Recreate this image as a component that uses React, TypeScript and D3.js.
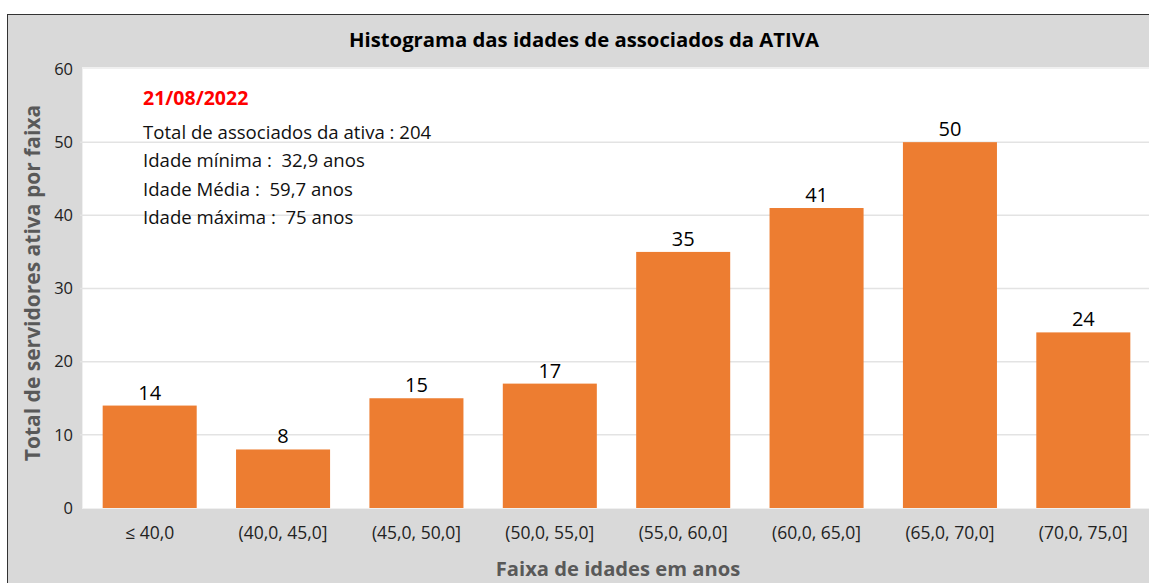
import { useEffect, useRef } from "react";
import * as d3 from "d3";

// histogram bins and counts
const faixas = [
  "≤ 40,0",
  "(40,0, 45,0]",
  "(45,0, 50,0]",
  "(50,0, 55,0]",
  "(55,0, 60,0]",
  "(60,0, 65,0]",
  "(65,0, 70,0]",
  "(70,0, 75,0]",
];
const totais = [14, 8, 15, 17, 35, 41, 50, 24];
const yTicks = [0, 10, 20, 30, 40, 50, 60];
const dataRef = "21/08/2022";
const resumo = [
  "Total de associados da ativa : 204",
  "Idade mínima :  32,9 anos",
  "Idade Média :  59,7 anos",
  "Idade máxima :  75 anos",
];

function App() {
  const ref = useRef<SVGSVGElement>(null);

  useEffect(() => {
    const W = 1149,
      H = 583;
    const svg = d3.select(ref.current);
    svg.selectAll("*").remove();
    const font = "'Open Sans', sans-serif";

    // outer frame
    svg.append("rect").attr("x", 0).attr("y", 0).attr("width", W).attr("height", H).attr("fill", "#fff");
    svg
      .append("rect")
      .attr("x", 7.5)
      .attr("y", 14.5)
      .attr("width", W)
      .attr("height", H)
      .attr("fill", "#d9d9d9")
      .attr("stroke", "#333")
      .attr("stroke-width", 1);

    const left = 83,
      right = 1150,
      top = 69,
      bottom = 508;

    // white plot area with light edge
    svg
      .append("rect")
      .attr("x", left - 1)
      .attr("y", top - 2)
      .attr("width", right - left + 2)
      .attr("height", bottom - top + 3)
      .attr("fill", "#f0f0f0");
    svg
      .append("rect")
      .attr("x", left)
      .attr("y", top)
      .attr("width", right - left)
      .attr("height", bottom - top)
      .attr("fill", "#fff");

    const x = d3.scaleBand<string>().domain(faixas).range([left, right]).paddingInner(0.295).paddingOuter(0.1475);
    const y = d3.scaleLinear().domain([0, 60]).range([bottom, top]);

    // gridlines
    svg
      .append("g")
      .selectAll("line")
      .data(yTicks.filter((t) => t > 0 && t < 60))
      .join("line")
      .attr("x1", left - 3)
      .attr("x2", right)
      .attr("y1", (d) => y(d))
      .attr("y2", (d) => y(d))
      .attr("stroke", "#e3e3e3")
      .attr("stroke-width", 1.5);

    // y tick labels
    svg
      .append("g")
      .selectAll("text")
      .data(yTicks)
      .join("text")
      .attr("x", 73)
      .attr("y", (d) => y(d))
      .attr("dy", "0.35em")
      .attr("text-anchor", "end")
      .attr("font-family", font)
      .attr("font-size", 16.5)
      .attr("fill", "#222")
      .text((d) => d);

    // bars
    svg
      .append("g")
      .selectAll("rect")
      .data(totais)
      .join("rect")
      .attr("x", (d, i) => x(faixas[i])!)
      .attr("y", (d) => y(d))
      .attr("width", x.bandwidth())
      .attr("height", (d) => y(0) - y(d))
      .attr("fill", "#ed7d31");

    // bar labels
    svg
      .append("g")
      .selectAll("text")
      .data(totais)
      .join("text")
      .attr("x", (d, i) => x(faixas[i])! + x.bandwidth() / 2)
      .attr("y", (d) => y(d) - 6)
      .attr("text-anchor", "middle")
      .attr("font-family", font)
      .attr("font-size", 20)
      .attr("fill", "#000")
      .text((d) => d);

    // x tick labels
    svg
      .append("g")
      .selectAll("text")
      .data(faixas)
      .join("text")
      .attr("x", (d) => x(d)! + x.bandwidth() / 2)
      .attr("y", 539)
      .attr("text-anchor", "middle")
      .attr("font-family", font)
      .attr("font-size", 17.5)
      .attr("fill", "#222")
      .text((d) => d);

    // title
    svg
      .append("text")
      .attr("x", 584)
      .attr("y", 47)
      .attr("text-anchor", "middle")
      .attr("font-family", font)
      .attr("font-weight", "bold")
      .attr("font-size", 20.3)
      .attr("fill", "#000")
      .text("Histograma das idades de associados da ATIVA");

    // axis titles
    svg
      .append("text")
      .attr("x", 618)
      .attr("y", 576)
      .attr("text-anchor", "middle")
      .attr("font-family", font)
      .attr("font-weight", "bold")
      .attr("font-size", 20.2)
      .attr("fill", "#595959")
      .text("Faixa de idades em anos");

    svg
      .append("text")
      .attr("transform", "translate(40,283) rotate(-90)")
      .attr("text-anchor", "middle")
      .attr("font-family", font)
      .attr("font-weight", "bold")
      .attr("font-size", 21)
      .attr("fill", "#595959")
      .text("Total de servidores ativa por faixa");

    // annotation
    svg
      .append("text")
      .attr("x", 143)
      .attr("y", 105)
      .attr("font-family", font)
      .attr("font-weight", "bold")
      .attr("font-size", 19.5)
      .attr("fill", "#ff0000")
      .text(dataRef);

    svg
      .append("g")
      .selectAll("text")
      .data(resumo)
      .join("text")
      .attr("x", 143)
      .attr("y", (d, i) => [139, 167, 196, 224][i])
      .attr("font-family", font)
      .attr("font-size", 18.6)
      .attr("fill", "#111")
      .style("white-space", "pre")
      .text((d) => d);
  }, []);

  return <svg ref={ref} width={1149} height={583} style={{ position: "absolute", left: 0, top: 0 }} />;
}

export default App;
